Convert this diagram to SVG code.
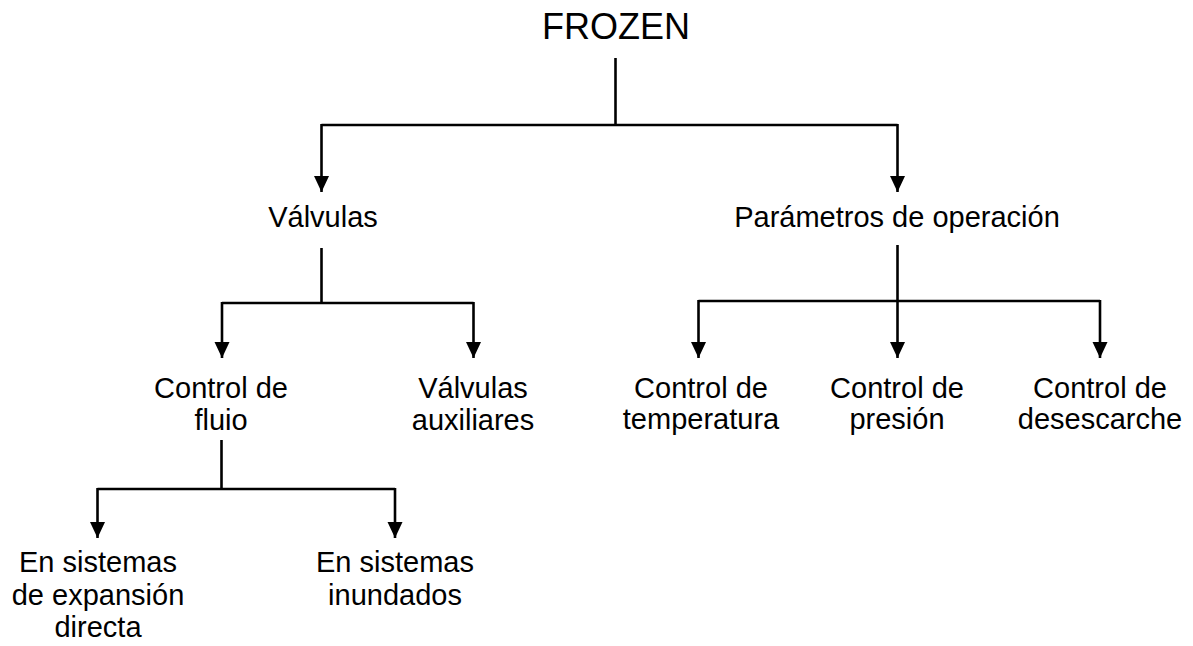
<svg xmlns="http://www.w3.org/2000/svg" width="1193" height="646" viewBox="0 0 1193 646">
<defs>
<style>
.t{font-family:"Liberation Sans",Arial,sans-serif;font-size:29px;fill:#000;text-anchor:middle}
.big{font-size:36px}
.c{fill:none;stroke:#000;stroke-width:2.6}
</style>
<marker id="a" markerUnits="userSpaceOnUse" markerWidth="16" markerHeight="16" viewBox="0 0 16 16" refX="16" refY="8" orient="auto">
<path d="M0,0.5 L16,8 L0,15.5 Z" fill="#000"/>
</marker>
</defs>
<rect width="1193" height="646" fill="#fff"/>
<g id="connectors">
<path class="c" d="M615.5,58 V125"/>
<path class="c" d="M321.5,125 H897.5"/>
<path class="c" d="M321.5,124 V192" marker-end="url(#a)"/>
<path class="c" d="M897.5,124 V192" marker-end="url(#a)"/>
<path class="c" d="M321.5,248 V303"/>
<path class="c" d="M222,303 H473.5"/>
<path class="c" d="M222,302 V358" marker-end="url(#a)"/>
<path class="c" d="M473.5,302 V358" marker-end="url(#a)"/>
<path class="c" d="M897.5,245 V301"/>
<path class="c" d="M698.5,301 H1100"/>
<path class="c" d="M698.5,300 V358" marker-end="url(#a)"/>
<path class="c" d="M897.5,300 V358" marker-end="url(#a)"/>
<path class="c" d="M1100,300 V358" marker-end="url(#a)"/>
<path class="c" d="M221.5,440 V489"/>
<path class="c" d="M97.5,489 H395"/>
<path class="c" d="M97.5,488 V538" marker-end="url(#a)"/>
<path class="c" d="M395,488 V538" marker-end="url(#a)"/>
</g>
<g id="frozen"><text class="t big" x="616" y="39">FROZEN</text></g>
<g id="valvulas"><text class="t" x="323" y="227">Válvulas</text></g>
<g id="parametros"><text class="t" x="897" y="227">Parámetros de operación</text></g>
<g id="control-flujo"><text class="t" x="221" y="398">Control de</text><text class="t" x="221" y="430">fluio</text></g>
<g id="valvulas-aux"><text class="t" x="473" y="398">Válvulas</text><text class="t" x="473" y="430">auxiliares</text></g>
<g id="control-temp"><text class="t" x="701" y="398">Control de</text><text class="t" x="701" y="429">temperatura</text></g>
<g id="control-pres"><text class="t" x="897" y="398">Control de</text><text class="t" x="897" y="429">presión</text></g>
<g id="control-deses"><text class="t" x="1100" y="398">Control de</text><text class="t" x="1100" y="429">desescarche</text></g>
<g id="expansion"><text class="t" x="98" y="572">En sistemas</text><text class="t" x="98" y="605">de expansión</text><text class="t" x="98" y="637">directa</text></g>
<g id="inundados"><text class="t" x="395" y="572">En sistemas</text><text class="t" x="395" y="605">inundados</text></g>
</svg>
